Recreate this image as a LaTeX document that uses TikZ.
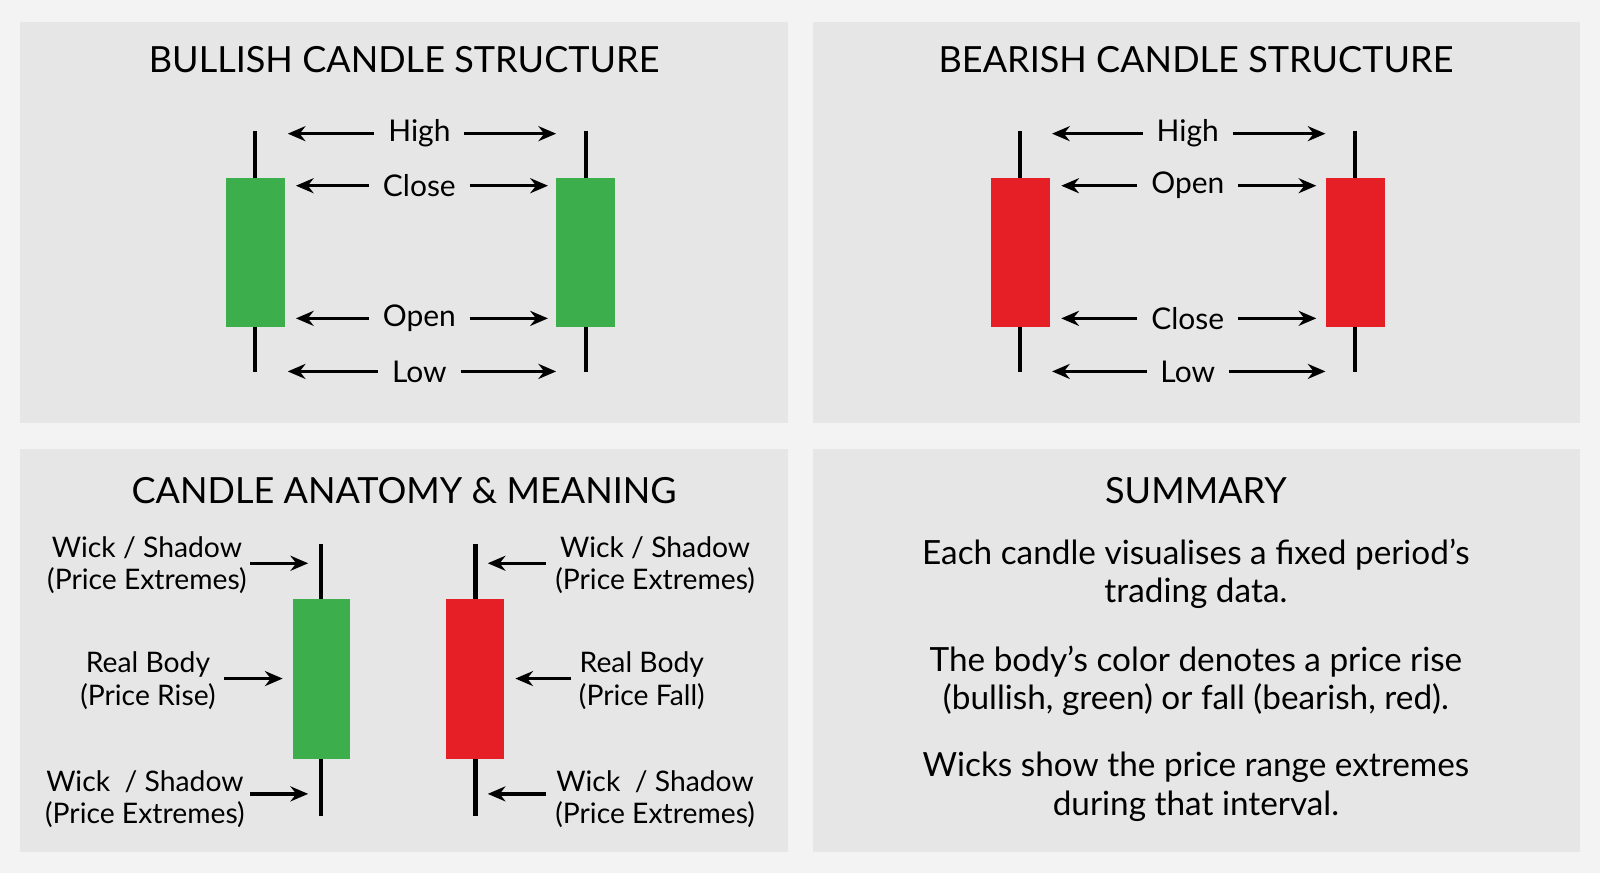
\documentclass[tikz,border=0pt]{standalone}
\usepackage{fontspec}
\setmainfont{Lato}
\usetikzlibrary{arrows.meta}
\definecolor{bg}{HTML}{F3F3F3}
\definecolor{panel}{HTML}{E6E6E6}
\definecolor{cgreen}{HTML}{3DAE4C}
\definecolor{cred}{HTML}{E61F26}
\tikzset{
  panelbox/.style={fill=panel,draw=none},
  ttl/.style={font=\fontsize{26.5}{31}\selectfont},
  lbl/.style={font=\fontsize{22}{26}\selectfont,inner sep=0pt},
  two/.style={font=\fontsize{20.8}{24}\selectfont,align=center,inner sep=0pt},
  summ/.style={font=\fontsize{24.5}{28}\selectfont,align=center,inner sep=0pt},
  arr/.style={-{Stealth[length=13pt,width=11pt]},line width=2.4pt},
  wick/.style={line width=3pt},
  gbody/.style={fill=cgreen,draw=none},
  rbody/.style={fill=cred,draw=none}
}
\begin{document}
\begin{tikzpicture}[x=0.75pt,y=-0.75pt]
\fill[bg] (0,0) rectangle (1568,856);
\useasboundingbox (0,0) rectangle (1568,856);
\fill[panelbox] (20,22) rectangle (772,415);
\fill[panelbox] (797,22) rectangle (1548,415);
\fill[panelbox] (20,440) rectangle (772,835);
\fill[panelbox] (797,440) rectangle (1548,835);
% titles
\node[ttl] (t1) at (396,58) {BULLISH CANDLE STRUCTURE};
\node[ttl] (t2) at (1172,58) {BEARISH CANDLE STRUCTURE};
\node[ttl] (t3) at (396,481) {CANDLE ANATOMY \& MEANING};
\node[ttl] (t4) at (1172,481) {SUMMARY};
% bullish
\draw[wick] (250,128) -- (250,365);
\fill[gbody] (221,174) rectangle (279,320);
\draw[wick] (574,128) -- (574,365);
\fill[gbody] (545,174) rectangle (603,320);
\node[lbl] (bh) at (411,131) {High};
\node[lbl] (bc) at (411,182) {Close};
\node[lbl] (bo) at (411,312) {Open};
\node[lbl] (bl) at (411,364) {Low};
\coordinate (bhL) at (282,131); \coordinate (bhR) at (545,131);
\coordinate (bcL) at (290,182); \coordinate (bcR) at (537,182);
\coordinate (boL) at (290,312); \coordinate (boR) at (537,312);
\coordinate (blL) at (282,364); \coordinate (blR) at (545,364);
\draw[arr] ([xshift=-10pt]bh.west) -- (bhL);
\draw[arr] ([xshift=10pt]bh.east) -- (bhR);
\draw[arr] ([xshift=-10pt]bc.west) -- (bcL);
\draw[arr] ([xshift=10pt]bc.east) -- (bcR);
\draw[arr] ([xshift=-10pt]bo.west) -- (boL);
\draw[arr] ([xshift=10pt]bo.east) -- (boR);
\draw[arr] ([xshift=-10pt]bl.west) -- (blL);
\draw[arr] ([xshift=10pt]bl.east) -- (blR);
% bearish
\draw[wick] (1000,128) -- (1000,365);
\fill[rbody] (971,174) rectangle (1029,320);
\draw[wick] (1328,128) -- (1328,365);
\fill[rbody] (1299,174) rectangle (1357,320);
\node[lbl] (rh) at (1164,131) {High};
\node[lbl] (ro) at (1164,182) {Open};
\node[lbl] (rc) at (1164,312) {Close};
\node[lbl] (rl) at (1164,364) {Low};
\coordinate (rhL) at (1031,131); \coordinate (rhR) at (1299,131);
\coordinate (roL) at (1040,182); \coordinate (roR) at (1290,182);
\coordinate (rcL) at (1040,312); \coordinate (rcR) at (1290,312);
\coordinate (rlL) at (1031,364); \coordinate (rlR) at (1299,364);
\draw[arr] ([xshift=-10pt]rh.west) -- (rhL);
\draw[arr] ([xshift=10pt]rh.east) -- (rhR);
\draw[arr] ([xshift=-10pt]ro.west) -- (roL);
\draw[arr] ([xshift=10pt]ro.east) -- (roR);
\draw[arr] ([xshift=-10pt]rc.west) -- (rcL);
\draw[arr] ([xshift=10pt]rc.east) -- (rcR);
\draw[arr] ([xshift=-10pt]rl.west) -- (rlL);
\draw[arr] ([xshift=10pt]rl.east) -- (rlR);
% anatomy
\draw[wick] (315,533) -- (315,800);
\fill[gbody] (287,587) rectangle (343,744);
\draw[wick] (466,533) -- (466,800);
\fill[rbody] (437,587) rectangle (494,744);
\node[two] (a1) at (144,554) {Wick / Shadow\\(Price Extremes)};
\node[two] (a2) at (145,667) {Real Body\\(Price Rise)};
\node[two] (a3) at (142,783) {Wick \ / Shadow\\(Price Extremes)};
\node[two] (a4) at (642,554) {Wick / Shadow\\(Price Extremes)};
\node[two] (a5) at (629,667) {Real Body\\(Price Fall)};
\node[two] (a6) at (642,783) {Wick \ / Shadow\\(Price Extremes)};
\coordinate (g1) at (302,552); \coordinate (g2) at (277,665); \coordinate (g3) at (302,778);
\coordinate (r1) at (478,552); \coordinate (r2) at (505,665); \coordinate (r3) at (478,778);
\draw[arr] (245,552) -- (g1);
\draw[arr] (220,665) -- (g2);
\draw[arr] (245,778) -- (g3);
\draw[arr] (535,552) -- (r1);
\draw[arr] (560,665) -- (r2);
\draw[arr] (535,778) -- (r3);
% summary
\node[summ] (s1) at (1172,562) {Each candle visualises a fixed period’s\\trading data.};
\node[summ] (s2) at (1172,667) {The body’s color denotes a price rise\\(bullish, green) or fall (bearish, red).};
\node[summ] (s3) at (1172,771) {Wicks show the price range extremes\\during that interval.};
\end{tikzpicture}
\end{document}
